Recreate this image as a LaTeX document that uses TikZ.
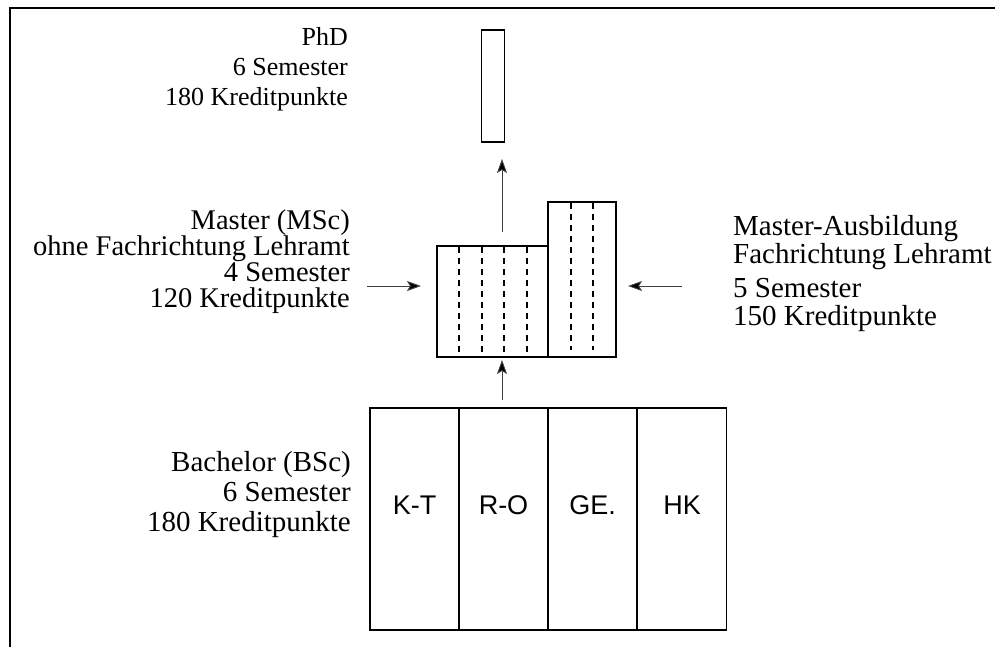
\documentclass[tikz,border=0pt]{standalone}
\usepackage{fontspec}
\setmainfont{Liberation Serif}
\newfontfamily\arialf{Liberation Sans}
\usetikzlibrary{arrows.meta}
\begin{document}
\begin{tikzpicture}[x=1pt,y=-1pt,
  box/.style={draw,line width=1.6pt,inner sep=0pt},
  dsh/.style={line width=1.5pt,dash pattern=on 6pt off 5pt},
  arr/.style={line width=0.9pt,draw=black!75,-{Stealth[length=14pt,width=10pt,inset=3pt,fill=black]}},
  lblr/.style={font=\fontsize{29}{30}\selectfont,align=right,anchor=east,inner sep=0pt},
  lbll/.style={font=\fontsize{29}{28}\selectfont,align=left,anchor=west,inner sep=0pt},
  col/.style={box,minimum width=89pt,minimum height=222pt},
  coltxt/.style={font=\arialf\fontsize{27}{30}\selectfont,inner sep=0pt}]
\useasboundingbox (0,0) rectangle (995,646);
\draw[line width=2pt] (10,650) -- (10,8) -- (1000,8);

% PhD
\node[box,minimum width=23pt,minimum height=112pt] (phd) at (493,86) {};
\node[lblr,font=\fontsize{26}{30}\selectfont] (phdtxt) at (348,69.5) {PhD\\6 Semester\\180 Kreditpunkte};

% Master
\node[box,minimum width=111pt,minimum height=111pt] (ml) at (492.5,301.5) {};
\node[box,minimum width=68pt,minimum height=155pt] (mr) at (582,279.5) {};
\foreach \xx in {459,482,504,527}{\draw[dsh] (\xx,247) -- (\xx,356);}
\foreach \xx in {571,593}{\draw[dsh] (\xx,203) -- (\xx,350);}
\node[lblr,font=\fontsize{28.5}{26}\selectfont] (mltxt) at (350,262) {Master (MSc)\\ohne Fachrichtung Lehramt\\4 Semester\\120 Kreditpunkte};
\node[lbll] (mrtxt) at (733,273.5) {Master-Ausbildung\\Fachrichtung Lehramt\\[6pt]5 Semester\\150 Kreditpunkte};

% Bachelor
\node[col] (kt) at (414.5,519) {};
\node[col] (ro) at (503.5,519) {};
\node[col] (ge) at (592.5,519) {};
\node[col] (hk) at (682,519) {};
\node[coltxt] (ktt) at (414.5,505) {K-T};
\node[coltxt] (rot) at (503.5,505) {R-O};
\node[coltxt] (get) at (592.5,505) {GE.};
\node[coltxt] (hkt) at (682,505) {HK};
\node[lblr] (btxt) at (351,495) {Bachelor (BSc)\\6 Semester\\180 Kreditpunkte};

% arrows
\coordinate (a1s) at (502,232);
\coordinate (a1e) at (502,159);
\coordinate (a2s) at (502,400);
\coordinate (a2e) at (502,360);
\coordinate (a3s) at (367,286);
\coordinate (a3e) at (421,286);
\coordinate (a4s) at (682,286);
\coordinate (a4e) at (628,286);
\draw[arr] (a1s) -- (a1e);
\draw[arr] (a2s) -- (a2e);
\draw[arr] (a3s) -- (a3e);
\draw[arr] (a4s) -- (a4e);
\end{tikzpicture}
\end{document}
